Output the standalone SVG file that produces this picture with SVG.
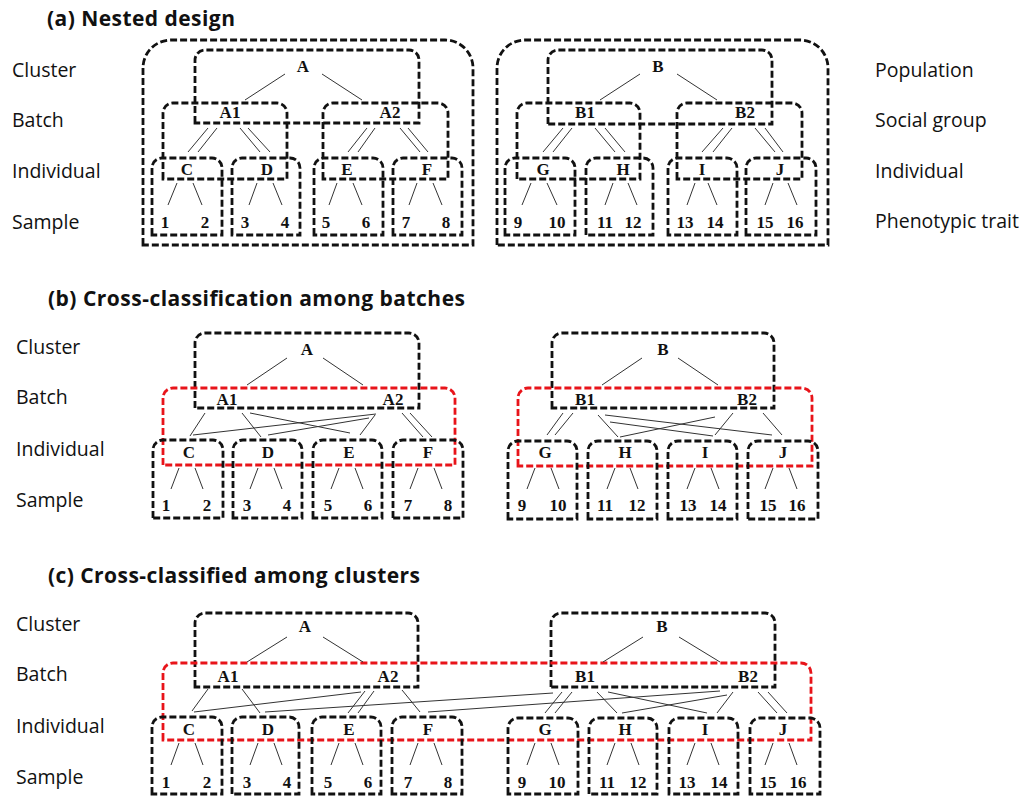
<svg xmlns="http://www.w3.org/2000/svg" width="1031" height="796" viewBox="0 0 1031 796">
<style>
.bx{fill:none;stroke:#111;stroke-width:2.8;stroke-dasharray:7 3}
.rd{fill:none;stroke:#e8141a;stroke-width:2.8;stroke-dasharray:7 3}
.ln{stroke:#333;stroke-width:1;fill:none}
.nt{font-family:"Liberation Serif","Times New Roman",serif;font-weight:bold;font-size:17px;fill:#111;text-anchor:middle}
.lb{font-family:"Open Sans","Liberation Sans",sans-serif;font-size:19.5px;fill:#111}
.tt{font-family:"Open Sans","Liberation Sans",sans-serif;font-size:21px;font-weight:bold;fill:#111}
</style>
<rect width="1031" height="796" fill="#fff"/>

<!-- titles and level labels -->
<g id="labels">
<text class="tt" x="47" y="26" textLength="188">(a) Nested design</text>
<text class="lb" x="12" y="77">Cluster</text>
<text class="lb" x="12" y="127">Batch</text>
<text class="lb" x="12" y="178">Individual</text>
<text class="lb" x="12" y="229">Sample</text>
<text class="lb" x="875" y="77">Population</text>
<text class="lb" x="875" y="127">Social group</text>
<text class="lb" x="875" y="178">Individual</text>
<text class="lb" x="875" y="228">Phenotypic trait</text>

<text class="tt" x="48" y="306" textLength="417">(b) Cross-classification among batches</text>
<text class="lb" x="16" y="354">Cluster</text>
<text class="lb" x="16" y="404">Batch</text>
<text class="lb" x="16" y="456">Individual</text>
<text class="lb" x="16" y="507">Sample</text>

<text class="tt" x="48" y="583" textLength="372">(c) Cross-classified among clusters</text>
<text class="lb" x="16" y="631">Cluster</text>
<text class="lb" x="16" y="681">Batch</text>
<text class="lb" x="16" y="733">Individual</text>
<text class="lb" x="16" y="784">Sample</text>
</g>

<!-- ================= Panel (a) ================= -->
<g id="a-popA"><path class="bx" d="M143,245 V68 A28,28 0 0 1 171,40 H445 A28,28 0 0 1 473,68 V245 Z"/></g>
<g id="a-popB"><path class="bx" d="M497,245 V68 A28,28 0 0 1 525,40 H800 A28,28 0 0 1 828,68 V245 Z"/></g>

<g id="a-A"><path class="bx" d="M195,123 V60 A10,10 0 0 1 205,50 H409 A10,10 0 0 1 419,60 V123 Z"/><text class="nt" x="303" y="72">A</text></g>
<g id="a-A1"><path class="bx" d="M163,179 V113 A10,10 0 0 1 173,103 H277 A10,10 0 0 1 287,113 V179 Z"/><text class="nt" x="230" y="118">A1</text></g>
<g id="a-A2"><path class="bx" d="M323,179 V113 A10,10 0 0 1 333,103 H438 A10,10 0 0 1 448,113 V179 Z"/><text class="nt" x="390" y="118">A2</text></g>
<g id="a-C"><path class="bx" d="M152,235 V168 A10,10 0 0 1 162,158 H212 A10,10 0 0 1 222,168 V235 Z"/><text class="nt" x="187" y="175">C</text><text class="nt" x="165" y="228">1</text><text class="nt" x="205" y="228">2</text></g>
<g id="a-D"><path class="bx" d="M232,235 V168 A10,10 0 0 1 242,158 H290 A10,10 0 0 1 300,168 V235 Z"/><text class="nt" x="267" y="175">D</text><text class="nt" x="245" y="228">3</text><text class="nt" x="285" y="228">4</text></g>
<g id="a-E"><path class="bx" d="M314,235 V168 A10,10 0 0 1 324,158 H373 A10,10 0 0 1 383,168 V235 Z"/><text class="nt" x="347" y="175">E</text><text class="nt" x="326" y="228">5</text><text class="nt" x="366" y="228">6</text></g>
<g id="a-F"><path class="bx" d="M393,235 V168 A10,10 0 0 1 403,158 H452 A10,10 0 0 1 462,168 V235 Z"/><text class="nt" x="427" y="175">F</text><text class="nt" x="406" y="228">7</text><text class="nt" x="446" y="228">8</text></g>

<g id="a-B"><path class="bx" d="M548,124 V60 A10,10 0 0 1 558,50 H762 A10,10 0 0 1 772,60 V124 Z"/><text class="nt" x="658" y="72">B</text></g>
<g id="a-B1"><path class="bx" d="M517,179 V113 A10,10 0 0 1 527,103 H630 A10,10 0 0 1 640,113 V179 Z"/><text class="nt" x="585" y="118">B1</text></g>
<g id="a-B2"><path class="bx" d="M677,179 V113 A10,10 0 0 1 687,103 H792 A10,10 0 0 1 802,113 V179 Z"/><text class="nt" x="745" y="118">B2</text></g>
<g id="a-G"><path class="bx" d="M505,235 V168 A10,10 0 0 1 515,158 H565 A10,10 0 0 1 575,168 V235 Z"/><text class="nt" x="543" y="175">G</text><text class="nt" x="518" y="228">9</text><text class="nt" x="557" y="228">10</text></g>
<g id="a-H"><path class="bx" d="M586,235 V168 A10,10 0 0 1 596,158 H643 A10,10 0 0 1 653,168 V235 Z"/><text class="nt" x="623" y="175">H</text><text class="nt" x="605" y="228">11</text><text class="nt" x="633" y="228">12</text></g>
<g id="a-I"><path class="bx" d="M668,235 V168 A10,10 0 0 1 678,158 H727 A10,10 0 0 1 737,168 V235 Z"/><text class="nt" x="702" y="175">I</text><text class="nt" x="685" y="228">13</text><text class="nt" x="715" y="228">14</text></g>
<g id="a-J"><path class="bx" d="M746,235 V168 A10,10 0 0 1 756,158 H806 A10,10 0 0 1 816,168 V235 Z"/><text class="nt" x="780" y="175">J</text><text class="nt" x="765" y="228">15</text><text class="nt" x="795" y="228">16</text></g>

<!-- ================= Panel (b) ================= -->
<g id="b-A"><path class="bx" d="M195,408 V343 A10,10 0 0 1 205,333 H409 A10,10 0 0 1 419,343 V408 Z"/><text class="nt" x="307" y="355">A</text></g>
<g id="b-B"><path class="bx" d="M552,408 V343 A10,10 0 0 1 562,333 H764 A10,10 0 0 1 774,343 V408 Z"/><text class="nt" x="663" y="355">B</text></g>
<g id="b-batchA"><path class="rd" d="M163,465 V398 A10,10 0 0 1 173,388 H445 A10,10 0 0 1 455,398 V465 Z"/><text class="nt" x="227" y="405">A1</text><text class="nt" x="393" y="405">A2</text></g>
<g id="b-batchB"><path class="rd" d="M518,466 V398 A10,10 0 0 1 528,388 H802 A10,10 0 0 1 812,398 V466 Z"/><text class="nt" x="585" y="405">B1</text><text class="nt" x="747" y="405">B2</text></g>
<g id="b-C"><path class="bx" d="M153,518 V450 A10,10 0 0 1 163,440 H213 A10,10 0 0 1 223,450 V518 Z"/><text class="nt" x="189" y="458">C</text><text class="nt" x="166" y="511">1</text><text class="nt" x="207" y="511">2</text></g>
<g id="b-D"><path class="bx" d="M233,518 V450 A10,10 0 0 1 243,440 H292 A10,10 0 0 1 302,450 V518 Z"/><text class="nt" x="268" y="458">D</text><text class="nt" x="247" y="511">3</text><text class="nt" x="287" y="511">4</text></g>
<g id="b-E"><path class="bx" d="M313,518 V450 A10,10 0 0 1 323,440 H372 A10,10 0 0 1 382,450 V518 Z"/><text class="nt" x="349" y="458">E</text><text class="nt" x="328" y="511">5</text><text class="nt" x="368" y="511">6</text></g>
<g id="b-F"><path class="bx" d="M393,518 V450 A10,10 0 0 1 403,440 H453 A10,10 0 0 1 463,450 V518 Z"/><text class="nt" x="428" y="458">F</text><text class="nt" x="408" y="511">7</text><text class="nt" x="448" y="511">8</text></g>
<g id="b-G"><path class="bx" d="M508,519 V451 A10,10 0 0 1 518,441 H567 A10,10 0 0 1 577,451 V519 Z"/><text class="nt" x="545" y="458">G</text><text class="nt" x="522" y="511">9</text><text class="nt" x="558" y="511">10</text></g>
<g id="b-H"><path class="bx" d="M588,519 V451 A10,10 0 0 1 598,441 H647 A10,10 0 0 1 657,451 V519 Z"/><text class="nt" x="625" y="458">H</text><text class="nt" x="605" y="511">11</text><text class="nt" x="637" y="511">12</text></g>
<g id="b-I"><path class="bx" d="M668,519 V451 A10,10 0 0 1 678,441 H727 A10,10 0 0 1 737,451 V519 Z"/><text class="nt" x="705" y="458">I</text><text class="nt" x="688" y="511">13</text><text class="nt" x="718" y="511">14</text></g>
<g id="b-J"><path class="bx" d="M748,519 V451 A10,10 0 0 1 758,441 H808 A10,10 0 0 1 818,451 V519 Z"/><text class="nt" x="783" y="458">J</text><text class="nt" x="768" y="511">15</text><text class="nt" x="797" y="511">16</text></g>

<!-- ================= Panel (c) ================= -->
<g id="c-A"><path class="bx" d="M195,687 V623 A10,10 0 0 1 205,613 H408 A10,10 0 0 1 418,623 V687 Z"/><text class="nt" x="305" y="632">A</text></g>
<g id="c-B"><path class="bx" d="M551,687 V623 A10,10 0 0 1 561,613 H765 A10,10 0 0 1 775,623 V687 Z"/><text class="nt" x="662" y="632">B</text></g>
<g id="c-batch"><path class="rd" d="M163,740 V673 A10,10 0 0 1 173,663 H801 A10,10 0 0 1 811,673 V740 Z"/><text class="nt" x="228" y="682">A1</text><text class="nt" x="388" y="682">A2</text><text class="nt" x="585" y="682">B1</text><text class="nt" x="748" y="682">B2</text></g>
<g id="c-C"><path class="bx" d="M152,794 V727 A10,10 0 0 1 162,717 H212 A10,10 0 0 1 222,727 V794 Z"/><text class="nt" x="189" y="735">C</text><text class="nt" x="166" y="788">1</text><text class="nt" x="207" y="788">2</text></g>
<g id="c-D"><path class="bx" d="M232,794 V727 A10,10 0 0 1 242,717 H289 A10,10 0 0 1 299,727 V794 Z"/><text class="nt" x="268" y="735">D</text><text class="nt" x="247" y="788">3</text><text class="nt" x="287" y="788">4</text></g>
<g id="c-E"><path class="bx" d="M312,794 V727 A10,10 0 0 1 322,717 H371 A10,10 0 0 1 381,727 V794 Z"/><text class="nt" x="349" y="735">E</text><text class="nt" x="328" y="788">5</text><text class="nt" x="368" y="788">6</text></g>
<g id="c-F"><path class="bx" d="M392,794 V727 A10,10 0 0 1 402,717 H452 A10,10 0 0 1 462,727 V794 Z"/><text class="nt" x="428" y="735">F</text><text class="nt" x="408" y="788">7</text><text class="nt" x="448" y="788">8</text></g>
<g id="c-G"><path class="bx" d="M508,794 V728 A10,10 0 0 1 518,718 H568 A10,10 0 0 1 578,728 V794 Z"/><text class="nt" x="545" y="735">G</text><text class="nt" x="522" y="788">9</text><text class="nt" x="557" y="788">10</text></g>
<g id="c-H"><path class="bx" d="M589,794 V728 A10,10 0 0 1 599,718 H647 A10,10 0 0 1 657,728 V794 Z"/><text class="nt" x="625" y="735">H</text><text class="nt" x="607" y="788">11</text><text class="nt" x="638" y="788">12</text></g>
<g id="c-I"><path class="bx" d="M669,794 V728 A10,10 0 0 1 679,718 H728 A10,10 0 0 1 738,728 V794 Z"/><text class="nt" x="705" y="735">I</text><text class="nt" x="687" y="788">13</text><text class="nt" x="719" y="788">14</text></g>
<g id="c-J"><path class="bx" d="M750,794 V728 A10,10 0 0 1 760,718 H810 A10,10 0 0 1 820,728 V794 Z"/><text class="nt" x="783" y="735">J</text><text class="nt" x="768" y="788">15</text><text class="nt" x="798" y="788">16</text></g>

<!-- ================= Connectors ================= -->
<g id="connectors" class="ln">
<!-- (a) left -->
<path d="M285,74 L245,100 M322,74 L362,100"/>
<path d="M208,128 L188,152 M217,128 L198,152 M240,128 L260,152 M248,128 L270,152"/>
<path d="M367,128 L348,152 M375,128 L358,152 M400,128 L420,152 M408,128 L428,152"/>
<path d="M177,183 L168,205 M193,183 L202,205 M257,183 L249,205 M273,183 L282,205 M337,183 L329,205 M353,183 L362,205 M417,183 L409,205 M433,183 L442,205"/>
<!-- (a) right -->
<path d="M640,74 L600,100 M677,74 L717,100"/>
<path d="M563,128 L543,152 M572,128 L553,152 M595,128 L615,152 M605,128 L625,152"/>
<path d="M723,128 L702,152 M732,128 L713,152 M755,128 L775,152 M765,128 L783,152"/>
<path d="M531,183 L522,205 M547,183 L557,205 M613,183 L605,205 M628,183 L637,205 M695,183 L687,205 M708,183 L717,205 M773,183 L765,205 M788,183 L797,205"/>

<!-- (b) left -->
<path d="M287,358 L247,385 M323,358 L363,385"/>
<path d="M205,413 L190,436 M242,413 L261,437 M250,413 L350,433"/>
<path d="M376,414 L193,435 M369,418 L268,435 M375,415 L360,435 M402,413 L423,437 M410,413 L432,437"/>
<path d="M179,468 L171,489 M195,468 L203,489 M258,468 L250,489 M274,468 L282,489 M339,468 L331,489 M355,468 L363,489 M418,468 L410,489 M434,468 L442,489"/>
<!-- (b) right -->
<path d="M642,358 L602,385 M678,358 L718,385"/>
<path d="M563,413 L547,435 M573,413 L555,435 M598,415 L618,437 M605,415 L772,435 M610,422 L713,436"/>
<path d="M715,417 L620,437 M733,413 L715,435 M763,413 L782,435"/>
<path d="M535,468 L527,489 M551,468 L559,489 M615,468 L607,489 M630,468 L638,489 M695,468 L687,489 M711,468 L719,489 M773,468 L765,489 M789,468 L797,489"/>

<!-- (c) -->
<path d="M287,637 L247,662 M323,637 L363,662 M643,637 L603,662 M679,637 L720,662"/>
<path d="M208,689 L192,711 M242,689 L260,713 M361,692 L194,712 M365,691 L348,713 M374,691 L358,713 M402,690 L420,712"/>
<path d="M553,693 L265,712 M720,691 L428,712"/>
<path d="M562,692 L545,713 M572,692 L555,713 M597,692 L617,713 M608,692 L707,713"/>
<path d="M727,695 L622,713 M733,692 L717,713 M758,692 L777,713 M768,692 L787,713"/>
<path d="M179,743 L171,765 M195,743 L203,765 M258,743 L250,765 M274,743 L282,765 M339,743 L331,765 M355,743 L363,765 M418,743 L410,765 M434,743 L442,765"/>
<path d="M535,743 L527,765 M551,743 L559,765 M615,743 L607,765 M631,743 L639,765 M695,743 L687,765 M711,743 L719,765 M773,743 L765,765 M789,743 L797,765"/>
</g>
</svg>
